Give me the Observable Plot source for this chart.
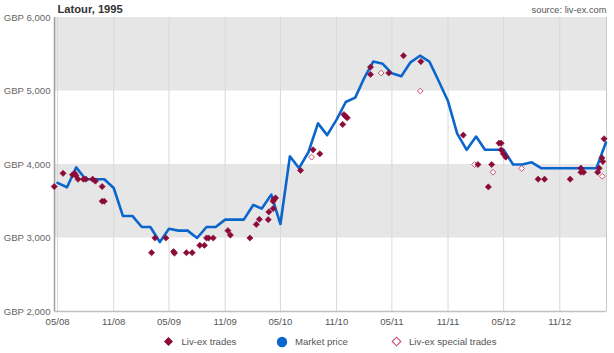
<!DOCTYPE html>
<html><head><meta charset="utf-8">
<script src="https://cdn.jsdelivr.net/npm/d3@7"></script>
<script src="https://cdn.jsdelivr.net/npm/@observablehq/plot@0.6"></script>
<style>
body{margin:0;background:#fff;font-family:Arial,"Liberation Sans",sans-serif;}
#wrap{position:relative;width:614px;height:353px;}
#legend{position:absolute;left:0;top:333px;width:614px;height:18px;font-size:9.6px;color:#555;}
#legend .ic{position:absolute;top:3px;}
#legend .tx{position:absolute;top:3px;line-height:12px;white-space:nowrap;}
</style></head><body>
<div id="wrap"><div id="chart"></div>
<div id="legend">
<svg class="ic" style="left:163px" width="11" height="11"><path d="M5.5,1 L10,5.5 L5.5,10 L1,5.5Z" fill="#8b0a3a"/></svg>
<span class="tx" style="left:181.5px">Liv-ex trades</span>
<svg class="ic" style="left:276px" width="12" height="12"><circle cx="6" cy="6" r="5.2" fill="#0a66cc"/></svg>
<span class="tx" style="left:295px">Market price</span>
<svg class="ic" style="left:390.5px" width="11" height="11"><path d="M5.5,1.2 L9.8,5.5 L5.5,9.8 L1.2,5.5Z" fill="#fff" stroke="#c8506e" stroke-width="1.1"/></svg>
<span class="tx" style="left:409px">Liv-ex special trades</span>
</div></div>
<script>
const priceMonths = ["2008-05","2008-06","2008-07","2008-08","2008-09","2008-10","2008-11","2008-12",
"2009-01","2009-02","2009-03","2009-04","2009-05","2009-06","2009-07","2009-08","2009-09","2009-10","2009-11","2009-12",
"2010-01","2010-02","2010-03","2010-04","2010-05","2010-06","2010-07","2010-08","2010-09","2010-10","2010-11","2010-12",
"2011-01","2011-02","2011-03","2011-04","2011-05","2011-06","2011-07","2011-08","2011-09","2011-10","2011-11","2011-12",
"2012-01","2012-02","2012-03","2012-04","2012-05","2012-06","2012-07","2012-08","2012-09","2012-10","2012-11","2012-12",
"2013-01","2013-02","2013-03","2013-04"];
const priceValues = [3750,3690,3960,3800,3800,3800,3680,3300,
3300,3150,3150,2945,3125,3100,3100,3000,3150,3150,3250,3250,
3250,3450,3400,3590,3190,4110,3950,4170,4560,4400,4610,4850,
4910,5190,5400,5370,5240,5200,5390,5480,5400,5140,4860,4420,
4200,4380,4200,4200,4200,4000,4000,4030,3950,3950,3950,3950,
3950,3950,3950,4300];

const tradeDates = ["2008-04-20","2008-05-19","2008-06-19","2008-06-26","2008-06-30","2008-07-07","2008-07-25","2008-08-02",
"2008-08-24","2008-09-02","2008-09-24","2008-09-24","2008-10-01","2009-03-05","2009-03-16","2009-04-21","2009-05-16","2009-05-19",
"2009-06-27","2009-07-16","2009-08-10","2009-08-25","2009-09-01","2009-09-08","2009-09-23","2009-11-10","2009-11-18",
"2010-01-21","2010-02-11","2010-02-21","2010-03-22","2010-03-24","2010-04-07","2010-04-07","2010-04-09","2010-04-15",
"2010-07-06","2010-08-16","2010-09-07","2010-11-21","2010-11-25","2010-11-30","2010-12-06","2011-02-20","2011-02-20",
"2011-04-21","2011-06-08","2011-08-04","2011-12-21","2012-02-07","2012-03-12","2012-03-23","2012-04-16","2012-04-23",
"2012-04-23","2012-04-30","2012-05-08","2012-08-22","2012-09-12","2012-12-05","2013-01-09","2013-01-09","2013-01-18",
"2013-03-05","2013-03-10","2013-03-19","2013-03-22","2013-03-26"];
const tradeValues = [3700,3880,3860,3880,3850,3800,3800,3800,
3800,3775,3700,3500,3500,2800,3000,3000,2815,2795,
2800,2800,2900,2900,3000,3000,3000,3100,3040,
3000,3185,3255,3250,3355,3400,3500,3520,3545,
3920,4200,4145,4545,4680,4655,4635,5325,5225,
5245,5480,5400,4400,4000,3695,4000,4290,4290,
4200,4145,4100,3800,3800,3800,3950,3895,3895,
3895,3950,4090,4040,4350];

const specialDates = ["2010-08-11","2011-03-27","2011-08-02","2012-01-27","2012-03-27","2012-06-29","2013-03-20"];
const specialValues = [4100,5245,5000,4000,3895,3945,3840];

const xTickDates = ["2008-05-01","2008-11-01","2009-05-01","2009-11-01","2010-05-01","2010-11-01","2011-05-01","2011-11-01","2012-05-01","2012-11-01"];
const yTicks = [2000,3000,4000,5000,6000];
const bandLow = [3000,5000];
const bandHigh = [4000,6000];

const P = d3.utcParse("%Y-%m-%d");
const price = priceMonths.map((m,i)=>({date:P(m+"-01"), value:priceValues[i]}));
const trades = tradeDates.map((d,i)=>({date:P(d), value:tradeValues[i]}));
const specials = specialDates.map((d,i)=>({date:P(d), value:specialValues[i]}));
const bands = bandLow.map((v,i)=>({y1:v, y2:bandHigh[i]}));
const xTicks = xTickDates.map(P);
const x0 = P("2008-04-21"), x1 = P("2013-04-03");
const fmtY = d => "GBP " + d3.format(",")(d);

const chart = Plot.plot({
  width: 614, height: 333,
  marginTop: 17, marginBottom: 22, marginLeft: 54, marginRight: 8,
  style: {fontFamily: 'Arial, "Liberation Sans", sans-serif', fontSize: "9.6px", color: "#555", background: "#fff", overflow: "visible"},
  x: {type: "utc", domain: [x0, x1], label: null},
  y: {domain: [2000, 6000], label: null},
  marks: [
    Plot.rect(bands, {y1: "y1", y2: "y2", fill: "#e6e6e6"}),
    Plot.gridX(xTicks, {stroke: "#d9d9d9", strokeOpacity: 1, strokeWidth: 1}),
    Plot.ruleX([x1], {stroke: "#c8c8c8"}),
    Plot.ruleX([x0], {stroke: "#a0a0a0", strokeWidth: 1.5}),
    Plot.ruleY([2000], {stroke: "#c0c0c0", strokeWidth: 1.5}),
    Plot.axisX({ticks: xTicks, tickFormat: d3.utcFormat("%m/%y"), tickSize: 0, tickPadding: 7, fill: "#555"}),
    Plot.axisY({ticks: yTicks, tickFormat: fmtY, tickSize: 0, tickPadding: 4, fill: "#666"}),
    Plot.line(price, {x: "date", y: "value", stroke: "#0a66cc", strokeWidth: 2.6, strokeLinejoin: "round"}),
    Plot.dot(specials, {x: "date", y: "value", symbol: "diamond2", r: 2.6, stroke: "#c8506e", fill: "#fff", strokeWidth: 1}),
    Plot.dot(trades, {x: "date", y: "value", symbol: "diamond2", r: 2.8, fill: "#8b0a3a", stroke: "#8b0a3a", strokeWidth: 0.6}),
    Plot.text(["Latour, 1995"], {frameAnchor: "top-left", dx: 3, dy: -8, fontWeight: "bold", fontSize: 11.2, fill: "#333", lineAnchor: "middle"}),
    Plot.text(["source: liv-ex.com"], {frameAnchor: "top-right", dx: 0, dy: -7, fontSize: 9.3, fill: "#555", lineAnchor: "middle"})
  ]
});
document.getElementById("chart").appendChild(chart);
</script></body></html>
